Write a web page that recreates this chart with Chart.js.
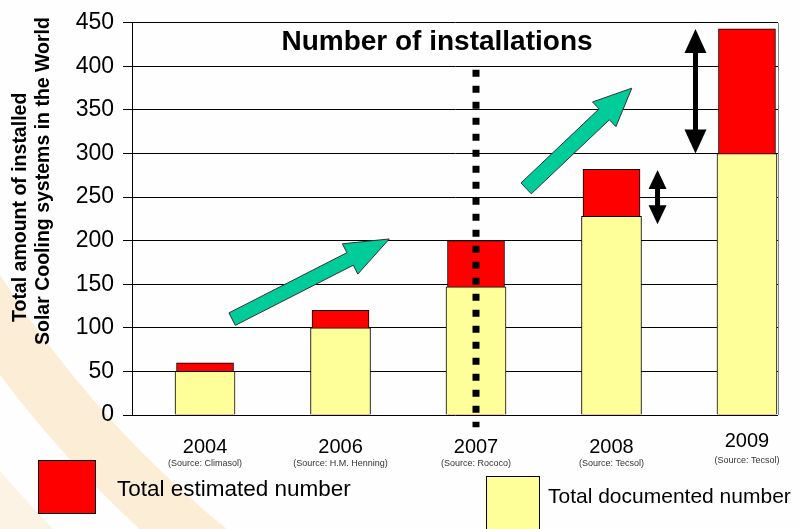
<!DOCTYPE html>
<html>
<head>
<meta charset="utf-8">
<script src="https://cdn.jsdelivr.net/npm/chart.js@4.4.1/dist/chart.umd.min.js"></script>
<style>
  html, body { margin: 0; padding: 0; background: #fff; }
  #wrap { width: 799px; height: 529px; }
</style>
</head>
<body>
<div id="wrap"><canvas id="myChart" width="799" height="529"></canvas></div>
<script>
// data
const years = ["2004", "2006", "2007", "2008", "2009"];
const sources = ["(Source: Climasol)", "(Source: H.M. Henning)", "(Source: Rococo)", "(Source: Tecsol)", "(Source: Tecsol)"];
const documented = [50, 100, 147, 228, 300];
const estimated = [60, 120, 200, 282, 443];

const RED = "#ff0000";
const YELLOW = "#ffff99";
const GREEN = "#00cc99";
const FONT = "'Liberation Sans', Arial, sans-serif";

function fatArrow(ctx, x0, y0, x1, y1, shaftW, headW, headL) {
  const dx = x1 - x0, dy = y1 - y0;
  const len = Math.sqrt(dx * dx + dy * dy);
  const ux = dx / len, uy = dy / len;
  const nx = -uy, ny = ux;
  const bx = x1 - ux * headL, by = y1 - uy * headL;
  ctx.beginPath();
  ctx.moveTo(x0 + nx * shaftW / 2, y0 + ny * shaftW / 2);
  ctx.lineTo(bx + nx * shaftW / 2, by + ny * shaftW / 2);
  ctx.lineTo(bx + nx * headW / 2, by + ny * headW / 2);
  ctx.lineTo(x1, y1);
  ctx.lineTo(bx - nx * headW / 2, by - ny * headW / 2);
  ctx.lineTo(bx - nx * shaftW / 2, by - ny * shaftW / 2);
  ctx.lineTo(x0 - nx * shaftW / 2, y0 - ny * shaftW / 2);
  ctx.closePath();
}

function doubleArrow(ctx, x, yTop, yBot, shaftW, headW, headL) {
  ctx.fillStyle = "#000";
  ctx.fillRect(x - shaftW / 2, yTop + headL - 1, shaftW, yBot - yTop - 2 * headL + 2);
  ctx.beginPath();
  ctx.moveTo(x, yTop);
  ctx.lineTo(x + headW / 2, yTop + headL);
  ctx.lineTo(x - headW / 2, yTop + headL);
  ctx.closePath();
  ctx.fill();
  ctx.beginPath();
  ctx.moveTo(x, yBot);
  ctx.lineTo(x + headW / 2, yBot - headL);
  ctx.lineTo(x - headW / 2, yBot - headL);
  ctx.closePath();
  ctx.fill();
}

const decor = {
  id: "decor",
  beforeDraw(chart) {
    const ctx = chart.ctx;
    const a = chart.chartArea;
    ctx.save();
    ctx.fillStyle = "#fefefe";
    ctx.fillRect(0, 0, chart.width, chart.height);
    // faint sun rings of the slide background
    ctx.beginPath();
    ctx.arc(900, -300, 1125, 0, Math.PI * 2);
    ctx.arc(900, -300, 1068, 0, Math.PI * 2, true);
    ctx.fillStyle = "#fcedd6";
    ctx.fill();
    ctx.beginPath();
    ctx.arc(900, -300, 1235, 0, Math.PI * 2);
    ctx.arc(900, -300, 1185, 0, Math.PI * 2, true);
    ctx.fillStyle = "#fdf3e5";
    ctx.fill();
    ctx.fillStyle = "#fefefe";
    ctx.fillRect(a.left, a.top, a.right - a.left, a.bottom - a.top);
    ctx.restore();
  },
  afterDatasetsDraw(chart) {
    const ctx = chart.ctx;
    const xs = chart.scales.x, ys = chart.scales.y;
    ctx.save();
    // dotted line through 2007
    const xd = xs.getPixelForValue(2);
    ctx.strokeStyle = "#000";
    ctx.lineWidth = 7;
    ctx.setLineDash([7, 9]);
    ctx.beginPath();
    ctx.moveTo(xd, ys.getPixelForValue(396));
    ctx.lineTo(xd, ys.getPixelForValue(-14));
    ctx.stroke();
    ctx.setLineDash([]);
    // green trend arrows
    ctx.fillStyle = GREEN;
    ctx.strokeStyle = "#333";
    ctx.lineWidth = 1;
    fatArrow(ctx, xs.getPixelForValue(0.2), ys.getPixelForValue(110),
      xs.getPixelForValue(1.36), ys.getPixelForValue(202), 14, 34, 44);
    ctx.fill(); ctx.stroke();
    fatArrow(ctx, xs.getPixelForValue(2.37), ys.getPixelForValue(260),
      xs.getPixelForValue(3.15), ys.getPixelForValue(375), 15, 34, 38);
    ctx.fill(); ctx.stroke();
    // black double arrows (gap between estimated and documented)
    doubleArrow(ctx, xs.getPixelForValue(3.62), ys.getPixelForValue(estimated[4]),
      ys.getPixelForValue(documented[4]), 5, 22, 24);
    doubleArrow(ctx, xs.getPixelForValue(3.34), ys.getPixelForValue(estimated[3] - 1),
      ys.getPixelForValue(documented[3] - 9), 5, 18, 19);
    ctx.restore();
  },
  afterDraw(chart) {
    const ctx = chart.ctx;
    const a = chart.chartArea;
    const xs = chart.scales.x;
    ctx.save();
    // right frame
    ctx.strokeStyle = "#888";
    ctx.lineWidth = 1;
    ctx.beginPath();
    ctx.moveTo(a.right + 0.5, a.top);
    ctx.lineTo(a.right + 0.5, a.bottom);
    ctx.stroke();
    // title
    ctx.fillStyle = "#000";
    ctx.textAlign = "center";
    ctx.textBaseline = "middle";
    ctx.font = "bold 28px " + FONT;
    ctx.fillText("Number of installations", a.left + 305, 42);
    // category labels
    years.forEach((y, i) => {
      const x = xs.getPixelForValue(i);
      ctx.font = "20px " + FONT;
      ctx.fillStyle = "#000";
      ctx.fillText(y, x, i === 4 ? 441 : 447);
      ctx.font = "9px " + FONT;
      ctx.fillStyle = "#333";
      ctx.fillText(sources[i], x, i === 4 ? 461 : 464);
    });
    // y title, two lines rotated
    ctx.save();
    ctx.rotate(-Math.PI / 2);
    ctx.textAlign = "left";
    ctx.fillStyle = "#000";
    ctx.font = "bold 19.5px " + FONT;
    ctx.fillText("Total amount of installed", -322, 21);
    ctx.fillText("Solar Cooling systems in the World", -345, 44);
    ctx.restore();
    // legend
    ctx.lineWidth = 1;
    ctx.strokeStyle = "#000";
    ctx.fillStyle = RED;
    ctx.fillRect(38, 460, 58, 54);
    ctx.strokeRect(38.5, 460.5, 57, 53);
    ctx.fillStyle = YELLOW;
    ctx.fillRect(486, 476, 54, 60);
    ctx.strokeRect(486.5, 476.5, 53, 60);
    ctx.fillStyle = "#000";
    ctx.textAlign = "left";
    ctx.font = "22.5px " + FONT;
    ctx.fillText("Total estimated number", 117, 490);
    ctx.font = "21px " + FONT;
    ctx.fillText("Total documented number", 548, 497);
    ctx.restore();
  }
};

const ctx = document.getElementById("myChart").getContext("2d");
const myChart = new Chart(ctx, {
  type: "bar",
  data: {
    datasets: [
      {
        label: "Total documented number",
        data: documented.map((v, i) => ({ x: i, y: v })),
        backgroundColor: YELLOW,
        borderColor: "#000",
        borderWidth: 1,
        barThickness: 60,
        order: 1
      },
      {
        label: "Total estimated number",
        data: estimated.map((v, i) => ({ x: i, y: v })),
        backgroundColor: RED,
        borderColor: "#000",
        borderWidth: 1,
        barThickness: 57,
        order: 2
      }
    ]
  },
  options: {
    responsive: false,
    animation: false,
    layout: { padding: { top: 15, right: 21, left: 0, bottom: 0 } },
    datasets: { bar: { grouped: false } },
    plugins: { legend: { display: false }, tooltip: { enabled: false } },
    scales: {
      x: {
        type: "linear",
        offset: false,
        min: -0.539,
        max: 4.229,
        grid: { display: false },
        border: { display: false },
        ticks: { display: false },
        afterFit(scale) { scale.height = 114; }
      },
      y: {
        min: 0,
        max: 450,
        ticks: { stepSize: 50, color: "#000", padding: 9, font: { size: 23, family: FONT } },
        grid: { color: "#000", lineWidth: 1, tickLength: 9 },
        border: { color: "#000", width: 1 },
        afterFit(scale) { scale.width = 132; }
      }
    }
  },
  plugins: [decor]
});
</script>
</body>
</html>
